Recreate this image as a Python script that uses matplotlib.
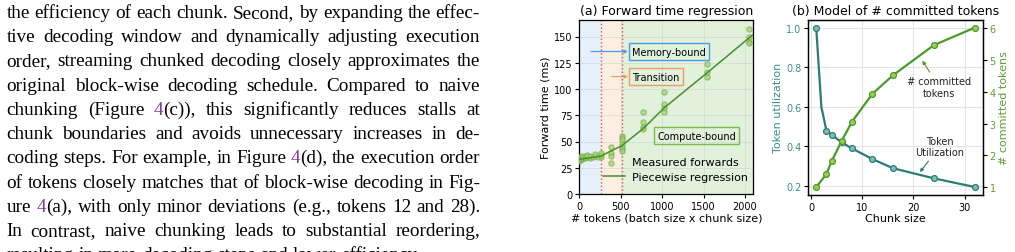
import matplotlib
matplotlib.use('Agg')
import matplotlib.pyplot as plt

# ---------------- data ----------------
text_lines = [
    "the efficiency of each chunk. Second, by expanding the effec-",
    "tive decoding window and dynamically adjusting execution",
    "order, streaming chunked decoding closely approximates the",
    "original block-wise decoding schedule. Compared to naive",
    "chunking (Figure 4(c)), this significantly reduces stalls at",
    "chunk boundaries and avoids unnecessary increases in de-",
    "coding steps. For example, in Figure 4(d), the execution order",
    "of tokens closely matches that of block-wise decoding in Fig-",
    "ure 4(a), with only minor deviations (e.g., tokens 12 and 28).",
    "In contrast, naive chunking leads to substantial reordering,",
    "resulting in more decoding steps and lower efficiency.",
]

fw_x = [1, 1, 2, 2, 4, 4, 8, 8, 16, 16, 32, 32, 48, 64, 64, 96, 96, 128, 128,
        160, 192, 192, 224, 256, 256, 256,
        384, 384, 384, 384,
        512, 512, 512, 512, 512, 512, 512,
        768, 768, 768, 768,
        1024, 1024, 1024, 1024,
        1536, 1536, 1536,
        2048, 2048, 2048, 2048]
fw_y = [31, 34, 32, 35, 33, 34, 32, 35, 33, 35, 33, 36, 34, 34, 36, 35, 37, 34, 36,
        35, 36, 38, 35, 35, 37, 39,
        45, 39, 36, 30,
        55, 53, 51, 48, 45, 43, 41,
        78, 69, 64, 62,
        97, 86, 82, 78,
        124, 116, 111,
        157, 150, 145, 144]

reg_x = [0, 256, 512, 768, 1024, 1536, 2100]
reg_y = [33, 36, 46, 62, 82, 115, 152]

region_edges = [0, 256, 512, 2100]
region_names = ["Memory-bound", "Transition", "Compute-bound"]

chunk_sizes = [1, 3, 4, 6, 8, 12, 16, 24, 32]
util_vals = [1.0, 0.479, 0.459, 0.42, 0.39, 0.336, 0.29, 0.239, 0.195]
util_line_x = [1, 2, 3, 4, 6, 8, 12, 16, 24, 32]
util_line_y = [1.0, 0.60, 0.479, 0.459, 0.42, 0.39, 0.336, 0.29, 0.239, 0.195]
committed_vals = [1.0, 1.41, 1.81, 2.46, 3.06, 3.94, 4.52, 5.47, 6.02]

# ---------------- figure ----------------
W, H = 1015, 253
fig = plt.figure(figsize=(W / 100, H / 100), dpi=100)
renderer = fig.canvas.get_renderer()

SERIF = 'Liberation Serif'
PURPLE = '#7d3c98'


def tw(s, fs):
    t = fig.text(0, 0, s, fontsize=fs, family=SERIF)
    w = t.get_window_extent(renderer).width
    t.remove()
    return w


def split_pieces(word):
    # colour the figure number "4" purple
    if word.startswith('4('):
        return [('4', PURPLE), (word[1:], 'black')]
    return [(word, 'black')]


left_px, right_px = 6.5, 480.0
target = right_px - left_px

# choose a font size at which the tightest line has ordinary word spacing
base_fs = 12.0
em = base_fs * 100 / 72
need = []
for ln in text_lines[:-1]:
    words = ln.split(' ')
    ws = sum(sum(tw(p, base_fs) for p, _ in split_pieces(w)) for w in words)
    need.append(ws + 0.25 * em * (len(words) - 1))
fs = min(base_fs * target / max(need), 14.0)
em = fs * 100 / 72

y0, dy = 17.8, 24.25
for i, ln in enumerate(text_lines):
    words = ln.split(' ')
    widths = []
    for w in words:
        widths.append(sum(tw(p, fs) for p, _ in split_pieces(w)))
    if i < len(text_lines) - 1:
        gap = max((target - sum(widths)) / (len(words) - 1), 0.18 * em)
    else:
        gap = 0.25 * em
    x = left_px
    ybase = y0 + i * dy
    for w, wd in zip(words, widths):
        xx = x
        for p, c in split_pieces(w):
            fig.text(xx / W, 1 - ybase / H, p, fontsize=fs, family=SERIF,
                     color=c, va='baseline', ha='left')
            xx += tw(p, fs)
        x += wd + gap

# ---------------- panel (a) ----------------
ax = fig.add_axes([579.3 / W, 1 - 195 / H, 174 / W, 174.3 / H])
bg_cols = ['#e6f0fa', '#fdeee2', '#e1f1dc']
for (a, b), c in zip(zip(region_edges[:-1], region_edges[1:]), bg_cols):
    ax.axvspan(a, b, color=c, zorder=0, lw=0)
for e in region_edges[1:3]:
    ax.axvline(e, color='#d9534f', ls=':', lw=1.0, zorder=1)
ax.set_axisbelow(True)
ax.grid(True, color='#c8d2c8', lw=0.6, alpha=0.6)

ax.scatter(fw_x, fw_y, s=14, facecolor='#a9d27c', edgecolor='#78b04a',
           linewidth=0.8, alpha=0.75, zorder=3, label='Measured forwards')
ax.plot(reg_x, reg_y, color='#44902a', lw=1.1, zorder=4,
        label='Piecewise regression')

ax.set_xlim(0, 2100)
ax.set_ylim(0, 166)
ax.set_xticks([0, 500, 1000, 1500, 2000])
ax.set_yticks([0, 25, 50, 75, 100, 125, 150])
ax.tick_params(labelsize=7, length=3, width=0.8, pad=2)
ax.set_title('(a) Forward time regression', fontsize=9, pad=4)
ax.set_xlabel('# tokens (batch size x chunk size)', fontsize=8, labelpad=1)
ax.set_ylabel('Forward time (ms)', fontsize=8, labelpad=2)

box_cfg = [
    (region_names[0], 1081, 135.7, '#4a9be6', 141),
    (region_names[1], 928, 111.8, '#f29a5e', 391),
    (region_names[2], 1417, 55.5, '#76bd52', None),
]
for name, cx, cy, col, tail in box_cfg:
    ax.text(cx, cy, name, fontsize=7, ha='center', va='center', zorder=6,
            bbox=dict(boxstyle='square,pad=0.35', fc='none', ec=col, lw=1.0))
    if tail is not None:
        ax.annotate('', xy=(588, cy), xytext=(tail, cy), zorder=6,
                    arrowprops=dict(arrowstyle='-|>', color=col, lw=0.9,
                                    mutation_scale=5, shrinkA=0, shrinkB=0))

leg = ax.legend(loc='lower right', bbox_to_anchor=(1.0, 0.035), fontsize=8,
                frameon=False, borderaxespad=0.1, handlelength=2.0,
                handletextpad=0.6, labelspacing=0.45)
leg.legend_handles[0].set_alpha(0)
for sp in ax.spines.values():
    sp.set_linewidth(0.9)

# ---------------- panel (b) ----------------
TEAL = '#2a7d74'
TEAL_F = '#7fbfb6'
GREEN = '#4c9a2a'
GREEN_F = '#9ccd55'
TEAL_T = '#3a8f86'
GREEN_T = '#5e9e36'

bx = fig.add_axes([808.3 / W, 1 - 196 / H, 174.4 / W, 175.3 / H])
bx.set_axisbelow(True)
bx.grid(True, color='#e4e4e4', lw=0.8)
bx.plot(util_line_x, util_line_y, color=TEAL, lw=1.6, zorder=3)
bx.plot(chunk_sizes, util_vals, ls='none', marker='o', ms=4.2,
        mfc=TEAL_F, mec=TEAL, mew=0.9, zorder=4)
bx.set_xticks([0, 10, 20, 30])
bx.set_yticks([0.2, 0.4, 0.6, 0.8, 1.0])
bx.set_yticklabels(['0.2', '0.4', '0.6', '0.8', '1.0'])
bx.tick_params(axis='x', labelsize=7, length=3, width=0.8, pad=2)
bx.tick_params(axis='y', labelsize=7, length=3, width=0.8, pad=2,
               labelcolor=TEAL_T, color='black')
bx.set_ylabel('Token utilization', fontsize=8, color=TEAL_T, labelpad=2)
bx.set_xlabel('Chunk size', fontsize=8, labelpad=1)
bx.set_title('(b) Model of # committed tokens', fontsize=9, pad=4)

bx2 = bx.twinx()
bx2.plot(chunk_sizes, committed_vals, color=GREEN, lw=1.6, marker='o',
         ms=4.2, mfc=GREEN_F, mec=GREEN, mew=0.9, zorder=3)
bx2.set_yticks([1, 2, 3, 4, 5, 6])
bx2.tick_params(axis='y', labelsize=7, length=3, width=0.8, pad=2,
                labelcolor=GREEN_T)
bx2.set_ylabel('# committed tokens', fontsize=8, color=GREEN_T, labelpad=2)

bx2.annotate('# committed\ntokens', xy=(21.6, 5.02), xytext=(25.0, 4.16),
             fontsize=7, ha='center', va='center', color='#222222',
             arrowprops=dict(arrowstyle='-|>', color=GREEN, lw=0.8,
                             mutation_scale=5, shrinkA=1, shrinkB=1))
bx.annotate('Token\nUtilization', xy=(21.1, 0.265), xytext=(25.2, 0.40),
            fontsize=7, ha='center', va='center', color='#222222',
            arrowprops=dict(arrowstyle='-|>', color=TEAL, lw=0.8,
                            mutation_scale=5, shrinkA=1, shrinkB=1))
for a in (bx, bx2):
    for sp in a.spines.values():
        sp.set_linewidth(0.9)

fig.savefig('out.png', dpi=100)
